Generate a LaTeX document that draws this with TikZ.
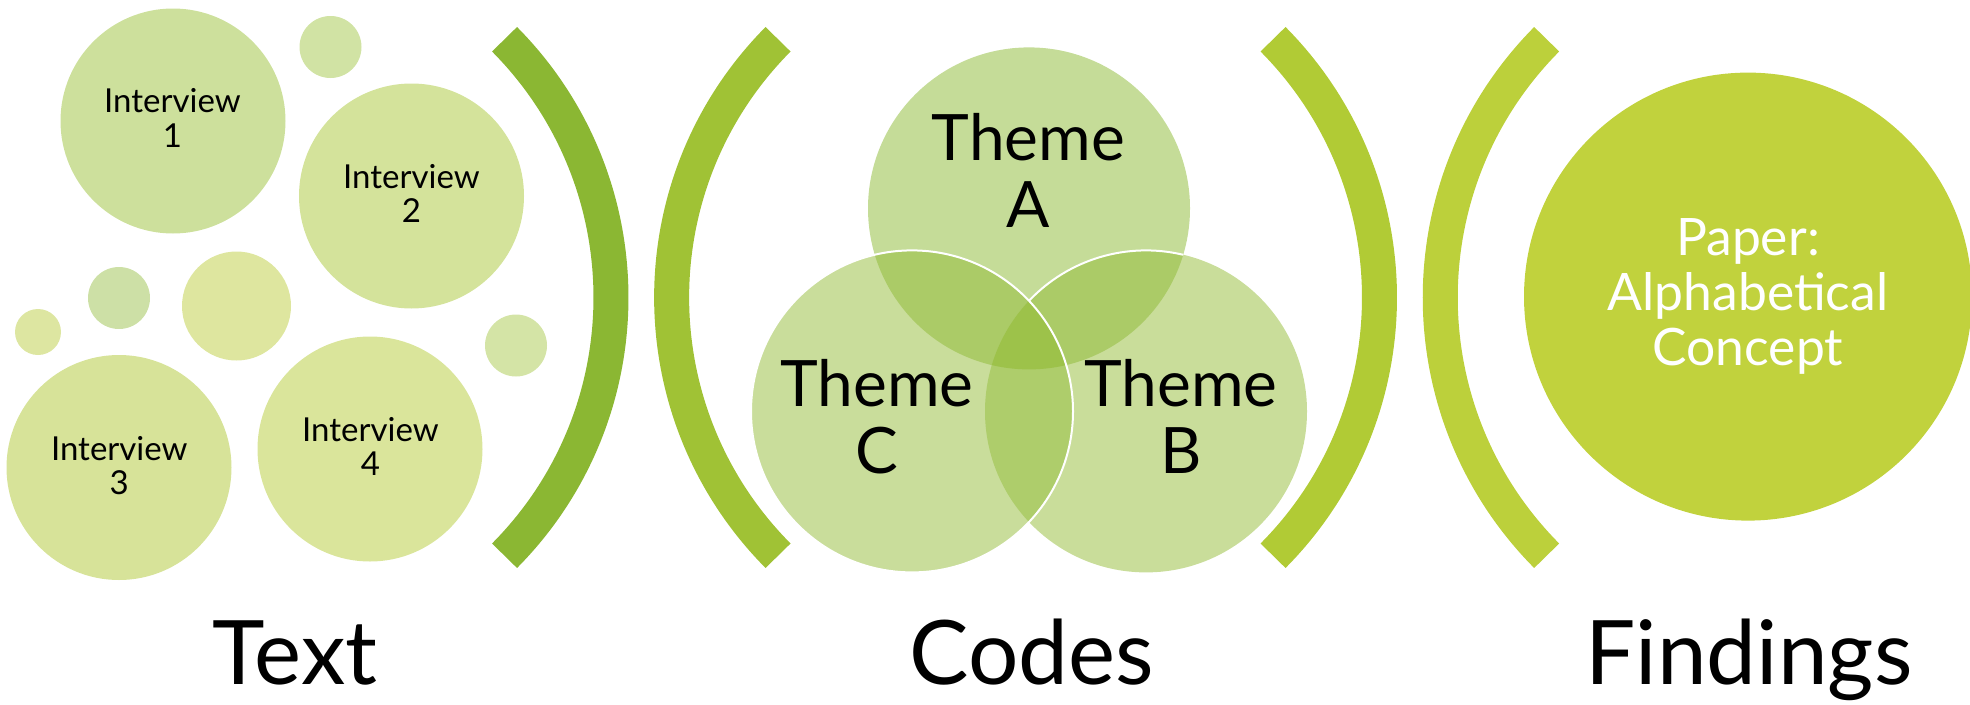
\documentclass[tikz,border=0pt]{standalone}
\usepackage{fontspec}
\setmainfont{Lato}
% palette
\definecolor{brA}{HTML}{8BB733}
\definecolor{brB}{HTML}{A0C235}
\definecolor{brC}{HTML}{B1CB35}
\definecolor{brD}{HTML}{BCD03B}
\definecolor{findfill}{HTML}{C1D23D}
\definecolor{ivA}{HTML}{CDE09C}
\definecolor{ivB}{HTML}{D4E39B}
\definecolor{ivC}{HTML}{D7E399}
\definecolor{ivD}{HTML}{DAE59B}
\definecolor{dotA}{HTML}{D1E3A4}
\definecolor{dotB}{HTML}{CDE0A6}
\definecolor{dotC}{HTML}{DDE6A1}
\definecolor{dotD}{HTML}{DEE69F}
\definecolor{dotE}{HTML}{D4E4A6}
\definecolor{vennA}{HTML}{C5DC98}
\definecolor{vennB}{HTML}{C9DD9A}
\definecolor{vennC}{HTML}{C9DD9B}
\definecolor{vennTwo}{HTML}{ABCB67}
\definecolor{vennBC}{HTML}{AECD6B}
\definecolor{vennAll}{HTML}{9DC24A}
\begin{document}
\begin{tikzpicture}[x=1pt,y=-1pt,
  bubble/.style={circle, inner sep=0pt, minimum size=#1, draw=none},
  % multi-line labels are placed by the baseline of their last line
  ivlabel/.style={anchor=base, align=center, inner sep=0pt,
    font=\fontsize{33}{34.5}\selectfont},
  themelabel/.style={anchor=base, align=center, inner sep=0pt,
    font=\fontsize{64}{67.7}\selectfont},
  paperlabel/.style={anchor=base, align=center, inner sep=0pt, text=white,
    font=\fontsize{51.6}{55}\selectfont},
  stagelabel/.style={anchor=base, inner sep=0pt,
    font=\fontsize{89}{100}\selectfont},
  paren/.style={line width=35pt, line cap=butt},
  seam/.style={draw=white, line width=2pt},
]
\useasboundingbox (0,0) rectangle (1970,704);

% ---- interviews ----
\node[bubble=225, fill=ivA] (iv1) at (173,121) {};
\node[bubble=62,  fill=dotA] (dot1) at (330.5,47) {};
\node[bubble=225, fill=ivB] (iv2) at (411.5,196) {};
\node[bubble=62,  fill=dotB] (dot2) at (119,298) {};
\node[bubble=46,  fill=dotC] (dot3) at (38,332) {};
\node[bubble=109, fill=dotD] (dot4) at (236.5,306) {};
\node[bubble=62,  fill=dotE] (dot5) at (516,345.5) {};
\node[bubble=225, fill=ivC] (iv3) at (119,467.5) {};
\node[bubble=225, fill=ivD] (iv4) at (370,449) {};

\node[ivlabel] (lab1) at (172.4,147.3) {Interview\\1};
\node[ivlabel] (lab2) at (411.4,222.7) {Interview\\2};
\node[ivlabel] (lab3) at (119.3,494.5) {Interview\\3};
\node[ivlabel] (lab4) at (370.4,475.7) {Interview\\4};

% ---- brackets ----
\draw[paren, draw=brA] (244.5,297.5) ++(-44.8:366.5)
  arc[start angle=-44.8, end angle=44.8, radius=366.5];
\draw[paren, draw=brB] (1038.1,297.5) ++(224.8:366.5)
  arc[start angle=224.8, end angle=135.2, radius=366.5];
\draw[paren, draw=brC] (1013,297.5) ++(-44.8:366.5)
  arc[start angle=-44.8, end angle=44.8, radius=366.5];
\draw[paren, draw=brD] (1806.7,297.5) ++(224.8:366.5)
  arc[start angle=224.8, end angle=135.2, radius=366.5];

% ---- venn of themes ----
\coordinate (vA) at (1029,208.4);
\coordinate (vB) at (1146,411.4);
\coordinate (vC) at (912,411.4);
\fill[vennA] (vA) circle[radius=161];
\fill[vennB] (vB) circle[radius=161];
\fill[vennC] (vC) circle[radius=161];
\begin{scope}
  \clip (vA) circle[radius=161];
  \fill[vennTwo] (vB) circle[radius=161];
  \fill[vennTwo] (vC) circle[radius=161];
\end{scope}
\begin{scope}
  \clip (vB) circle[radius=161];
  \fill[vennBC] (vC) circle[radius=161];
\end{scope}
\begin{scope}
  \clip (vA) circle[radius=161];
  \clip (vB) circle[radius=161];
  \fill[vennAll] (vC) circle[radius=161];
\end{scope}
\draw[seam] (vC) circle[radius=161];
\draw[seam] (vB) ++(-76.6:161) arc[start angle=-76.6, end angle=-136.6, radius=161];

\node[themelabel] (thA) at (1028.3,227.7) {Theme\\A};
\node[themelabel] (thC) at (877,473.8) {Theme\\C};
\node[themelabel] (thB) at (1181,473.8) {Theme\\B};

% ---- findings ----
\node[bubble=448, fill=findfill] (paper) at (1748,296.6) {};
\node[paperlabel] (paperlab) at (1748,365.5) {Paper:\\Alphabetical\\Concept};

% ---- stage captions ----
\node[stagelabel] (stText) at (295,684) {Text};
\node[stagelabel] (stCodes) at (1032,684) {Codes};
\node[stagelabel] (stFind) at (1749,684) {Findings};
\end{tikzpicture}
\end{document}
